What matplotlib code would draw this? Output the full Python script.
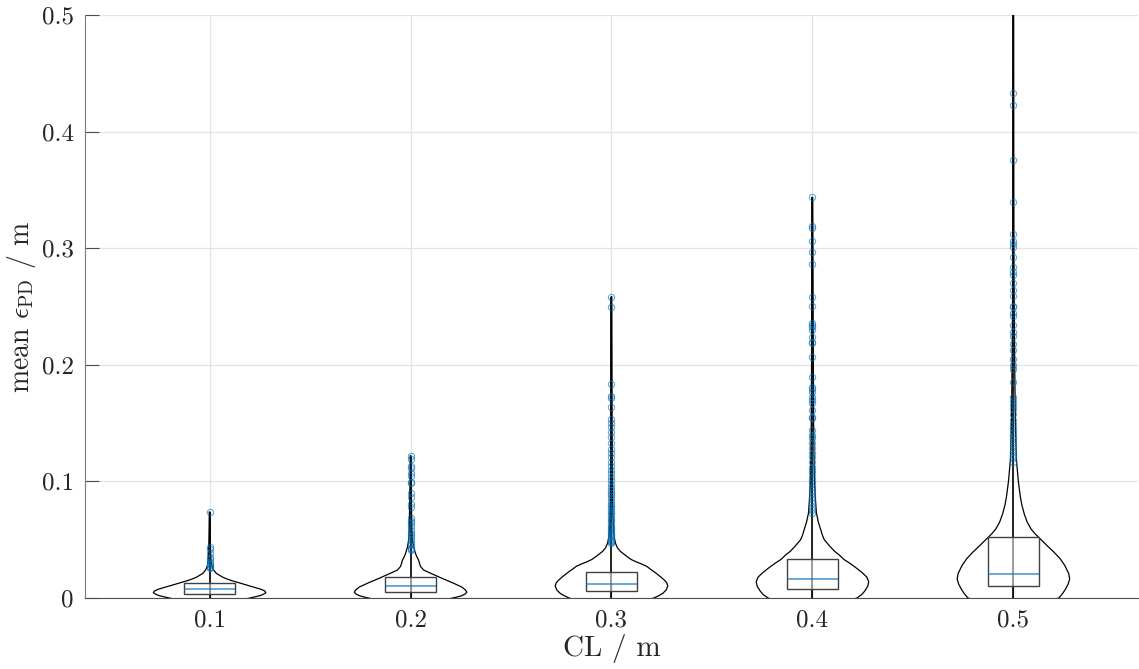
import matplotlib
matplotlib.use("Agg")
import matplotlib.pyplot as plt

# ---- data ----
categories = ["0.1", "0.2", "0.3", "0.4", "0.5"]

box_q1 = [0.0032, 0.0049, 0.0063, 0.0077, 0.0105]
box_med = [0.0075, 0.0103, 0.0123, 0.0166, 0.0207]
box_q3 = [0.0126, 0.0183, 0.0220, 0.0334, 0.0525]
data_min = [0.0, 0.0, 0.0, 0.0, 0.0]
data_max = [0.0738, 0.1220, 0.2584, 0.3436, 0.53]

outliers_01 = [0.0738, 0.044, 0.042, 0.039, 0.0354, 0.0334, 0.031, 0.0295,
               0.0283, 0.0269, 0.0262, 0.0254]
outliers_02 = [0.1218, 0.119, 0.1132, 0.1112, 0.107, 0.1046, 0.0998, 0.0983,
               0.0898, 0.0869, 0.0806, 0.0783, 0.0683, 0.0663, 0.064, 0.0618,
               0.0583, 0.056, 0.054, 0.052, 0.0497, 0.0474, 0.0455, 0.0431,
               0.042, 0.041]
outliers_03 = [0.2584, 0.2493, 0.1835, 0.1732, 0.1713, 0.1641, 0.1533, 0.1504,
               0.147, 0.1427, 0.1383, 0.133, 0.128, 0.124, 0.121, 0.117, 0.113,
               0.110, 0.107, 0.104, 0.101, 0.098, 0.095, 0.093, 0.090, 0.088,
               0.086, 0.083, 0.081, 0.079, 0.077, 0.075, 0.073, 0.071, 0.069,
               0.067, 0.065, 0.063, 0.061, 0.060, 0.058, 0.057, 0.055, 0.054,
               0.052, 0.051, 0.050, 0.049, 0.048, 0.047]
outliers_04 = [0.3436, 0.319, 0.317, 0.3065, 0.2967, 0.2864, 0.2584, 0.2504,
               0.2356, 0.2341, 0.2327, 0.2298, 0.2241, 0.2198, 0.2184, 0.207,
               0.1898, 0.1812, 0.179, 0.177, 0.1726, 0.1698, 0.167, 0.1612,
               0.1555, 0.154, 0.144, 0.1398, 0.137, 0.1327, 0.1284, 0.1241,
               0.1212, 0.1169, 0.1126, 0.1098, 0.107, 0.104, 0.1012, 0.0983,
               0.0955, 0.0926, 0.0898, 0.0869, 0.084, 0.0812, 0.0783, 0.0755,
               0.0726]
outliers_05 = [0.4328, 0.423, 0.3754, 0.3393, 0.3125, 0.3059, 0.3033, 0.3007,
               0.2928, 0.2836, 0.2797, 0.277, 0.2705, 0.2639, 0.259, 0.2508,
               0.2492, 0.2443, 0.2416, 0.2344, 0.2279, 0.2246, 0.218, 0.2131,
               0.2049, 0.2, 0.1967, 0.1852, 0.1721, 0.1689, 0.1656, 0.1623,
               0.1574, 0.1525, 0.1492, 0.1459, 0.1426, 0.1393, 0.1361, 0.1328,
               0.1295, 0.1262, 0.123, 0.1197, 0.1164]

# violin outlines: value grid and relative half width
kde_y_01 = [-0.004, -0.003, -0.002, -0.001, 0.0, 0.001, 0.002, 0.003, 0.0045,
            0.006, 0.0075, 0.009, 0.0105, 0.012, 0.0135, 0.015, 0.0165, 0.018,
            0.0195, 0.021, 0.0225, 0.024, 0.026, 0.028, 0.032, 0.038, 0.045,
            0.06, 0.0738]
kde_w_01 = [0, 18, 28, 35, 41, 46, 51, 54, 57, 56, 52, 46, 40, 34, 28, 22, 17,
            13, 10, 7, 5.5, 4, 3, 2, 1.5, 1.1, 0.8, 0.5, 0.3]
kde_y_02 = [-0.004, -0.003, -0.002, -0.001, 0.0, 0.001, 0.002, 0.0035, 0.005,
            0.007, 0.0094, 0.011, 0.013, 0.015, 0.017, 0.0197, 0.022, 0.024,
            0.027, 0.03, 0.0326, 0.035, 0.038, 0.041, 0.044, 0.05, 0.06, 0.08,
            0.1, 0.122]
kde_w_02 = [0, 20, 30, 37, 42, 47, 51, 54.5, 56, 54.5, 51, 47, 42, 36.5, 31,
            24, 18, 13, 10, 8.8, 8, 6.5, 5, 4, 3, 1.8, 1.3, 0.9, 0.5, 0.3]
kde_y_03 = [-0.006, -0.004, -0.002, 0.0, 0.002, 0.004, 0.007, 0.0103, 0.013,
            0.015, 0.018, 0.022, 0.025, 0.027, 0.029, 0.031, 0.033, 0.0354,
            0.038, 0.04, 0.043, 0.047, 0.052, 0.058, 0.07, 0.08, 0.1, 0.12,
            0.16, 0.2, 0.2584]
kde_w_03 = [0, 22, 35, 43, 48, 52, 55.5, 57, 56, 54, 50, 44, 39, 36, 31, 25,
            20, 16, 12, 9, 6, 4, 2.8, 2, 1.5, 1.2, 1, 0.8, 0.6, 0.5, 0.3]
kde_y_04 = [-0.006, -0.004, -0.002, 0.0, 0.003, 0.006, 0.01, 0.014, 0.018,
            0.022, 0.026, 0.0297, 0.033, 0.037, 0.04, 0.044, 0.047, 0.05,
            0.054, 0.058, 0.065, 0.073, 0.085, 0.101, 0.12, 0.15, 0.2, 0.25,
            0.3436]
kde_w_04 = [0, 25, 38, 45, 50, 53, 56, 57, 55, 50, 44, 38, 32, 27, 22.5, 18,
            15, 12, 10, 8.6, 6, 4, 3, 2, 1.6, 1.2, 0.9, 0.7, 0.3]
kde_y_05 = [-0.008, -0.005, -0.003, 0.0, 0.004, 0.008, 0.012, 0.0164, 0.021,
            0.028, 0.034, 0.0394, 0.045, 0.05, 0.055, 0.059, 0.065, 0.072,
            0.08, 0.087, 0.1, 0.119, 0.15, 0.185, 0.23, 0.28, 0.35, 0.45, 0.53]
kde_w_05 = [0, 25, 35, 46, 50, 53, 55.5, 57, 56, 52, 47, 41, 34, 28, 22, 18,
            14, 11, 8.5, 7, 5, 3, 2, 1.5, 1, 0.6, 0.4, 0.3, 0.2]

outliers = [outliers_01, outliers_02, outliers_03, outliers_04, outliers_05]
kde_y = [kde_y_01, kde_y_02, kde_y_03, kde_y_04, kde_y_05]
kde_w = [kde_w_01, kde_w_02, kde_w_03, kde_w_04, kde_w_05]

blue = "#0072BD"

plt.rcParams["font.family"] = "serif"
plt.rcParams["font.serif"] = ["cmr10", "DejaVu Serif"]
plt.rcParams["mathtext.fontset"] = "cm"
plt.rcParams["axes.formatter.use_mathtext"] = True

fig = plt.figure(figsize=(11.39, 6.69), dpi=100)
ax = fig.add_axes([85 / 1139, 71 / 669, 1053 / 1139, 583 / 669])

positions = list(range(1, len(categories) + 1))

# violins
vpstats = []
for i in range(len(categories)):
    vpstats.append({
        "coords": kde_y[i],
        "vals": kde_w[i],
        "mean": box_med[i],
        "median": box_med[i],
        "min": data_min[i],
        "max": data_max[i],
    })

parts = ax.violin(vpstats, positions=positions, widths=0.56,
                  showmeans=False, showextrema=False, showmedians=False)
for body in parts["bodies"]:
    body.set_facecolor("none")
    body.set_edgecolor("black")
    body.set_linewidth(0.9)
    body.set_alpha(1)
    body.set_zorder(2)

# whisker line from min to max
ax.vlines(positions, data_min, data_max, color="black", lw=1.2, zorder=3)

# boxes
box_stats = []
for i in range(len(categories)):
    box_stats.append({
        "med": box_med[i],
        "q1": box_q1[i],
        "q3": box_q3[i],
        "whislo": box_q1[i],
        "whishi": box_q3[i],
        "fliers": [],
    })

ax.bxp(box_stats, positions=positions, widths=0.25, showfliers=False,
       showcaps=False, patch_artist=True,
       boxprops=dict(facecolor=(1, 1, 1, 0.55), edgecolor="#404040", lw=1.0),
       medianprops=dict(color=blue, lw=1.2, alpha=0.7),
       whiskerprops=dict(lw=0), manage_ticks=False, zorder=4)

# outliers
for pos, vals in zip(positions, outliers):
    ax.plot([pos] * len(vals), vals, linestyle="none", marker="o",
            markersize=4.5, markerfacecolor="none", markeredgecolor=blue,
            markeredgewidth=0.8, alpha=0.6, zorder=5)

ax.set_xlim(0.38, 5.62)
ax.set_ylim(0, 0.5)
ax.set_xticks(positions)
ax.set_xticklabels(categories)
ax.set_yticks([0, 0.1, 0.2, 0.3, 0.4, 0.5])
ax.set_yticklabels(["0", "0.1", "0.2", "0.3", "0.4", "0.5"])

ax.grid(True, color="#e3e3e3", lw=0.9)
ax.set_axisbelow(True)
ax.spines["top"].set_visible(False)
ax.spines["right"].set_visible(False)
ax.spines["left"].set_color("#7a7a7a")
ax.spines["bottom"].set_color("#4d4d4d")
ax.tick_params(direction="in", length=10, width=0.8, color="#4d4d4d",
               labelsize=18, labelcolor="#262626", pad=8)

ax.set_xlabel("CL / m", fontsize=21, color="#262626", labelpad=2)
ax.set_ylabel(r"mean $\epsilon_{\mathrm{PD}}$ / m", fontsize=20,
              color="#262626", labelpad=3)

fig.savefig("out.png", dpi=100)
